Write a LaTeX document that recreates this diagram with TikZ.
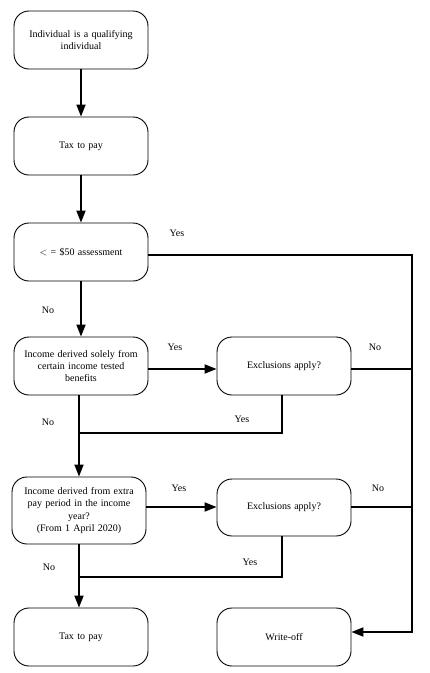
\documentclass[tikz,border=0pt]{standalone}
\usepackage{fontspec}
\setmainfont{Liberation Serif}
\usetikzlibrary{arrows.meta}
\begin{document}
\begin{tikzpicture}[x=1pt,y=-1pt,
  box/.style={draw,line width=0.9pt,rounded corners=15pt,minimum width=134pt,minimum height=58pt,align=center,font=\fontsize{10}{12.2}\selectfont,inner sep=2pt,text width=128pt},
  conn/.style={line width=1.8pt},
  arr/.style={conn,-{Triangle[length=12pt,width=9pt]}},
  lbl/.style={font=\fontsize{10}{12}\selectfont}]
\useasboundingbox (0,0) rectangle (430,673);
\node[box] (b1) at (81,40) {Individual is a qualifying\\individual};
\node[box] (b2) at (81,146) {Tax to pay};
\node[box] (b3) at (81,252) {$<$ = \$50 assessment};
\node[box] (b4) at (81,366) {Income derived solely from\\certain income tested\\benefits};
\node[box] (e1) at (284,366) {Exclusions apply?};
\node[box,minimum height=67pt] (b5) at (79,510.5) {Income derived from extra\\pay period in the income\\year?\\(From 1 April 2020)};
\node[box,minimum height=57pt] (e2) at (284,507.5) {Exclusions apply?};
\node[box] (b6) at (81,637) {Tax to pay};
\node[box] (w) at (284,637) {Write-off};
\coordinate (r1) at (412,255);
\coordinate (r2) at (412,632);
\coordinate (j1) at (412,369);
\coordinate (j2) at (412,507);
\coordinate (m1) at (282,433);
\coordinate (n1) at (79,433);
\coordinate (m2) at (282,577);
\coordinate (n2) at (79,577);
\draw[arr] (b1.south) -- (b2.north);
\draw[arr] (b2.south) -- (b3.north);
\draw[arr] (b3.south) -- (b4.north);
\draw[arr] (b3.east |- r1) -- (r1) -- (r2) -- (w.east |- r2);
\draw[arr] (b4.east |- j1) -- (e1.west |- j1);
\draw[conn] (e1.east |- j1) -- (j1);
\draw[conn] (e1.south -| m1) -- (m1) -- (n1);
\draw[arr] (b4.south -| b5.north) -- (b5.north);
\draw[arr] (b5.east |- j2) -- (e2.west |- j2);
\draw[conn] (e2.east |- j2) -- (j2);
\draw[conn] (e2.south -| m2) -- (m2) -- (n2);
\draw[arr] (b5.south) -- (b5.south |- b6.north);
\node[lbl] (y1) at (177,233) {Yes};
\node[lbl] (n3) at (48,310) {No};
\node[lbl] (y2) at (175,347) {Yes};
\node[lbl] (n4) at (375,347) {No};
\node[lbl] (y3) at (242,419) {Yes};
\node[lbl] (n5) at (48,422) {No};
\node[lbl] (y4) at (179,488) {Yes};
\node[lbl] (n6) at (378,488) {No};
\node[lbl] (y5) at (250,562) {Yes};
\node[lbl] (n7) at (49,567) {No};
\end{tikzpicture}
\end{document}
